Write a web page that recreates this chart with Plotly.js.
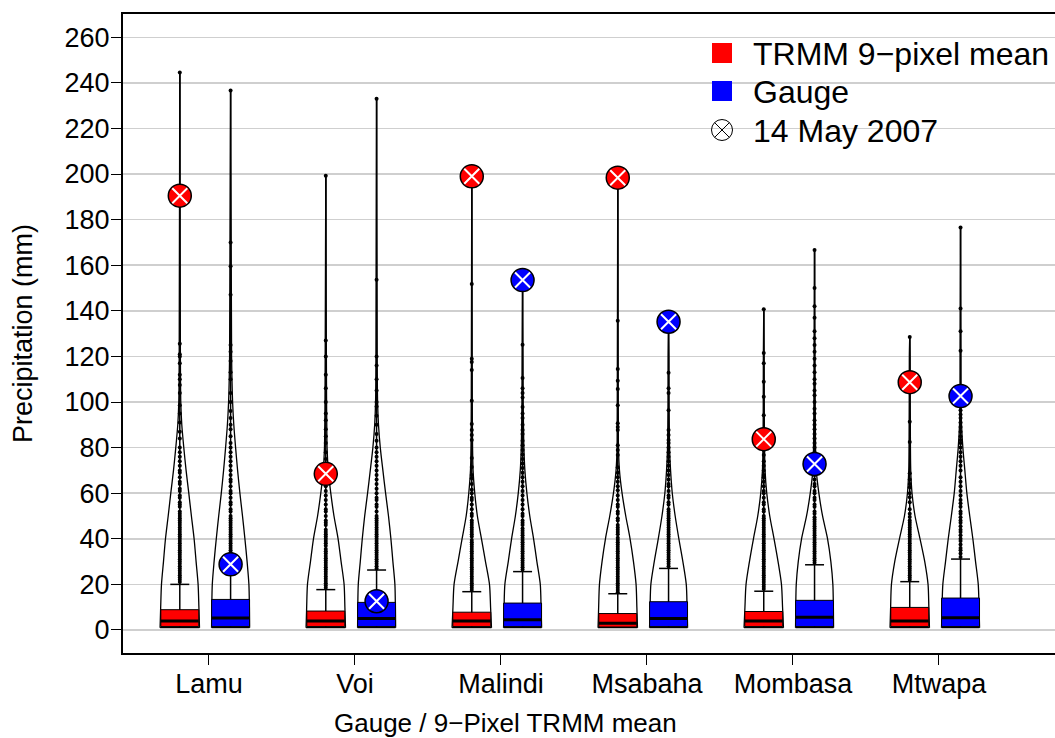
<!DOCTYPE html>
<html><head><meta charset="utf-8">
<script src="https://cdn.plot.ly/plotly-3.0.1.min.js"></script>
<style>html,body{margin:0;padding:0;background:#fff}#chart{width:1055px;height:738px}</style>
</head><body><div id="chart"></div>
<script>
// ---------- data ----------
const groups = ['Lamu', 'Voi', 'Malindi', 'Msabaha', 'Mombasa', 'Mtwapa'];
const seriesNames = ['TRMM 9\u2212pixel mean', 'Gauge'];
const highlightName = '14 May 2007';
const yTicks = [0, 20, 40, 60, 80, 100, 120, 140, 160, 180, 200, 220, 240, 260];

// TRMM 9-pixel mean
const trmmMin = [1, 1, 1, 1, 1, 1];
const trmmQ1 = [1.5, 1.5, 1.5, 1.3, 1.5, 1.5];
const trmmMedian = [3.9, 3.9, 3.9, 3.0, 3.9, 3.9];
const trmmQ3 = [8.9, 8.3, 7.8, 7.2, 8.1, 9.9];
const trmmWhisker = [20, 17.7, 16.8, 15.9, 17, 21.2];
const trmmMax = [244.5, 199.3, 199, 198.4, 140.7, 128.5];
const trmmMay14 = [190.5, 68.5, 199, 198.4, 83.7, 108.7];

// Gauge
const gaugeMin = [1, 1, 1, 1, 1, 1];
const gaugeQ1 = [1.5, 1.5, 1.5, 1.5, 1.5, 1.5];
const gaugeMedian = [5.2, 5.0, 4.5, 5.0, 5.6, 5.4];
const gaugeQ3 = [13.4, 12.1, 11.8, 12.4, 13, 14];
const gaugeWhisker = [31, 26.3, 25.6, 27, 28.6, 31.1];
const gaugeMax = [236.6, 233, 153.5, 135.2, 166.7, 176.5];
const gaugeMay14 = [28.8, 12.6, 153.5, 135.2, 72.8, 102.6];

// violin outline: relative half-widths at [min, 10,20,30,40,50,60,70,80,90,100,120, max]
const violinLevels = [10, 20, 30, 40, 50, 60, 70, 80, 90, 100, 120];
const trmmViolin = [
  [19.7, 19.1, 18.3, 16.3, 14.3, 11.6, 9.0, 6.3, 4.0, 2.0, 1.0, 0.6, 0],
  [19.7, 19.1, 18.3, 15.3, 12.3, 8.2, 5.0, 2.5, 1.3, 1.0, 0.8, 0.6, 0],
  [19.7, 18.8, 17.7, 13.7, 9.7, 5.6, 3.0, 1.3, 0.8, 0.6, 0.5, 0.4, 0],
  [19.7, 19.1, 18.3, 15.7, 12.3, 8.0, 4.3, 1.7, 0.7, 0.6, 0.5, 0.4, 0],
  [19.7, 18.8, 17.7, 14.3, 10.3, 6.0, 3.0, 1.3, 0.8, 0.6, 0.5, 0.4, 0],
  [19.7, 19.1, 18.3, 15.0, 10.3, 5.3, 2.3, 1.0, 0.7, 0.6, 0.5, 0.4, 0]
];
const gaugeViolin = [
  [19.0, 18.8, 18.3, 16.5, 14.3, 11.9, 9.3, 7.0, 5.0, 3.2, 2.0, 1.0, 0],
  [19.0, 18.8, 18.3, 16.3, 14.3, 11.9, 9.0, 6.3, 3.7, 1.9, 1.0, 0.6, 0],
  [19.0, 18.5, 17.7, 14.3, 11.0, 7.2, 4.3, 2.3, 1.3, 0.9, 0.6, 0.4, 0],
  [19.0, 18.5, 17.7, 14.3, 10.3, 6.6, 3.7, 2.0, 1.0, 0.7, 0.5, 0.4, 0],
  [19.0, 18.8, 18.3, 16.3, 13.0, 8.0, 4.3, 1.7, 1.0, 0.8, 0.6, 0.4, 0],
  [19.0, 18.5, 17.7, 15.0, 12.3, 9.2, 6.3, 4.3, 2.3, 1.0, 0.5, 0.4, 0]
];

// points beyond the upper whisker
const trmmOutliers = [
  [21,22,23,24,25,26,27,28,29,30,31,32,33,34,35,36,37,38,39,40,41,42,43,44,45,46,47,48,49,50,51,52,54,55,56,58,59,61,62,64,65,67,69,70,72,74,76,78,80,84,87,91,95,98.6,104,107.5,110,112,117,120,121,125.5,244.5],
  [18.5,19.5,20.5,21.5,22.5,23.5,24.5,25.5,26.5,27.5,28.5,29.5,30.5,31.5,32.5,33.5,34.5,35.5,37,38,39,40,41,42,43,44,46,47,48,50,52,53,55,57,59,61,63,65,67,72,75,78,82,85,88,92,95,100,106,112,120,127,199.3],
  [17.5,18.5,19.5,20.5,21.5,22.5,23.5,24.5,25.5,26.5,27.5,28.5,29.5,30.5,31.5,32.5,33.5,34.5,35.5,36.5,37.5,38.5,39.5,41,42,43,44,45,46,47,48,50,51,53,55,57,58,60,61.5,64,66.5,68,71.5,75.4,83.3,85.5,87.7,90.3,100.5,114,117.5,119,151.8,199],
  [16.5,17.5,18.5,19.5,20.5,21.5,22.5,23.5,24.5,25.5,26.5,27.5,28.5,29.5,30.5,31.5,32.5,33.5,34.5,35.5,36.5,37.5,38.5,39.5,40.5,42,43,44,45,46,48,49,51,52,54,55,57,59,61.3,63,65,67,69,71.4,76.7,79,81,87.7,89,90.7,98.6,105.7,109.3,114.5,135.6,198.4],
  [18,19,20,21,22,23,24,25,26,27,28,29,30,31,32,33,34,35,36,37,38,39,40,41,42,43,44,45,46,47,48,49,50,52,53,55,56,58,60,61,63,65,67,68,70,72,74,76.7,79,81,86,88,94.2,102.3,108.9,117,121.5,140.7],
  [22,23,24,25,26,27,28,29,30,31,32,33,34,35,36,37,38,39,40,41,42,43,44,45,46,47,48,49.6,51,53,56,58.2,60,62.6,64,66,68.8,82.5,91.3,128.5]
];
const gaugeOutliers = [
  [32,33,34,35,36,37,38,39,40,41,42,43,44,45,46,47,48,49,50,52,53,55,56,58,60,61,63,65,66,68,70,72,74,76,78,80,82,85,88,90,93,96,100,104,110,113,118,122,125,147,159.5,170,236.6],
  [27,28,29,30,31,32,33,34,35,36,37,38,39,40,41,42,43,44,45,46,47,48,49,50,52,54,55,57,58,60,62,64,66,68,70,72,74,76,78,80,83,86,90,94,98,100,105,110,116,120,153.6,233],
  [26.5,27.5,28.5,29.5,30.5,31.5,32.5,33.5,34.5,35.5,36.5,37.5,38.5,39.5,40.5,41.5,42.5,43.5,44.5,46,47,48,50,51,53,55,57,59,61,63,65,67,69,71,73,75,77,79,81,83,86,87.7,90,93,95,97.8,102,104,106,110.5,125.1,153.5],
  [28,29,30,31,32,33,34,35,36,37,38,39,40,41,42,43,44,45,46,47,48,49,50,51,52,53,55,56,58,59,61,63,64,66,68,70,72,74,76,78,80,82,83.3,85.5,87.7,96.4,104,106,112.8,135.2],
  [29.5,30.5,31.5,32.5,33.5,34.5,35.5,36.5,37.5,38.5,39.5,40.5,41.5,42.5,43.5,44.5,45.5,46.5,47.5,48.5,49.5,51,52,54,55,57,58,60,61,63,64,66,68,70,76,78,80,82,84,86,88,90,92,95,97,100,103,105,108,110,113,116,119,122,125,128,131,137,142,150,166.7],
  [32,33.5,35,36,37.5,39,40,41.5,43,44,45.5,47,48,49.5,51,52,54,55.6,57,59,61,63,65,67,70,72,74,76,78,80,82,83.3,85,87,89,91,93,94.5,96.4,122.5,131,141,176.5]
];

// ---------- styling ----------
const RED = '#FF0000', BLUE = '#0000FF';
const FONT = 'Liberation Sans, Arial, Helvetica, sans-serif';
const OFFSET = [-0.2, 0.148];
const VIOLIN_HALF = 0.135, BOX_HALF = 0.13, CAP_HALF = 0.065, WIDTH_REF = 19.7;
const W = 1055, H = 738, ML = 123, MT = 14, MB = 85;
const PW = W - ML, PH = H - MT - MB;
const px2x = p => (p - ML) / PW;
const py2y = p => (H - MB - p) / PH;

const series = [
  {color: RED, min: trmmMin, q1: trmmQ1, med: trmmMedian, q3: trmmQ3, wh: trmmWhisker, max: trmmMax, may: trmmMay14, vio: trmmViolin, out: trmmOutliers},
  {color: BLUE, min: gaugeMin, q1: gaugeQ1, med: gaugeMedian, q3: gaugeQ3, wh: gaugeWhisker, max: gaugeMax, may: gaugeMay14, vio: gaugeViolin, out: gaugeOutliers}
];

const violinT = [], lineT = [], dotT = [], boxT = [], medT = [], capT = [], hiT = [], hiX = [];
series.forEach((s, si) => {
  groups.forEach((g, i) => {
    const c = i + OFFSET[si];
    const lv = [s.min[i]].concat(violinLevels, [s.max[i]]);
    const w = s.vio[i].map(v => v / WIDTH_REF * VIOLIN_HALF);
    const xl = lv.map((v, k) => c - w[k]);
    const xr = lv.map((v, k) => c + w[k]);
    violinT.push({type: 'scatter', mode: 'lines', x: xl.concat([null], xr, [null], [c - w[0], c + w[0]]),
      y: lv.concat([null], lv, [null], [s.min[i], s.min[i]]),
      line: {color: '#000', width: 1.3, shape: 'spline', smoothing: 0.8}, hoverinfo: 'skip', showlegend: false});
    lineT.push({type: 'scatter', mode: 'lines', x: [c, c], y: [s.min[i], s.max[i]],
      line: {color: '#000', width: 1.5}, hoverinfo: 'skip', showlegend: false});
    dotT.push({type: 'scatter', mode: 'markers', x: s.out[i].map(() => c), y: s.out[i],
      marker: {color: '#000', size: 4}, hoverinfo: 'y', showlegend: false});
    boxT.push({type: 'scatter', mode: 'lines', fill: 'toself', fillcolor: s.color,
      x: [c - BOX_HALF, c + BOX_HALF, c + BOX_HALF, c - BOX_HALF, c - BOX_HALF],
      y: [s.q1[i], s.q1[i], s.q3[i], s.q3[i], s.q1[i]],
      line: {color: '#000', width: 1}, hoverinfo: 'skip', showlegend: false});
    medT.push({type: 'scatter', mode: 'lines', x: [c - BOX_HALF, c + BOX_HALF], y: [s.med[i], s.med[i]],
      line: {color: '#000', width: 3}, hoverinfo: 'skip', showlegend: false});
    capT.push({type: 'scatter', mode: 'lines', x: [c - CAP_HALF, c + CAP_HALF], y: [s.wh[i], s.wh[i]],
      line: {color: '#000', width: 1.5}, hoverinfo: 'skip', showlegend: false});
  });
  const cx = groups.map((g, i) => i + OFFSET[si]);
  hiT.push({type: 'scatter', mode: 'markers', x: cx, y: s.may,
    marker: {symbol: 'circle', size: 23, color: s.color, line: {color: '#000', width: 1.5}},
    hoverinfo: 'y', showlegend: false});
  hiX.push({type: 'scatter', mode: 'markers', x: cx, y: s.may,
    marker: {symbol: 'x-thin-open', size: 15, color: '#fff', line: {color: '#fff', width: 2}},
    hoverinfo: 'skip', showlegend: false});
});

const data = [].concat(violinT, lineT, dotT, boxT, medT, capT, hiT, hiX);

// ---------- legend drawn in paper space ----------
const legendRows = [53, 91, 130];
const legendSym = 722, legendText = 751, sq = 10, cr = 10.5;
const shapes = [
  {type: 'rect', xref: 'paper', yref: 'paper', x0: px2x(legendSym - sq), x1: px2x(legendSym + sq),
   y0: py2y(legendRows[0] + sq), y1: py2y(legendRows[0] - sq), fillcolor: RED, line: {width: 0}},
  {type: 'rect', xref: 'paper', yref: 'paper', x0: px2x(legendSym - sq), x1: px2x(legendSym + sq),
   y0: py2y(legendRows[1] + sq), y1: py2y(legendRows[1] - sq), fillcolor: BLUE, line: {width: 0}},
  {type: 'circle', xref: 'paper', yref: 'paper', x0: px2x(legendSym - cr), x1: px2x(legendSym + cr),
   y0: py2y(legendRows[2] + cr), y1: py2y(legendRows[2] - cr), line: {color: '#000', width: 1}},
  {type: 'line', xref: 'paper', yref: 'paper', x0: px2x(legendSym - cr * 0.707), x1: px2x(legendSym + cr * 0.707),
   y0: py2y(legendRows[2] - cr * 0.707), y1: py2y(legendRows[2] + cr * 0.707), line: {color: '#000', width: 1}},
  {type: 'line', xref: 'paper', yref: 'paper', x0: px2x(legendSym - cr * 0.707), x1: px2x(legendSym + cr * 0.707),
   y0: py2y(legendRows[2] + cr * 0.707), y1: py2y(legendRows[2] - cr * 0.707), line: {color: '#000', width: 1}}
];
const legendLabels = [seriesNames[0], seriesNames[1], highlightName];
const annotations = legendLabels.map((t, k) => ({
  text: t, xref: 'paper', yref: 'paper', x: px2x(legendText), y: py2y(legendRows[k] + 1),
  xanchor: 'left', yanchor: 'middle', showarrow: false, font: {size: 32, family: FONT, color: '#000'}
}));
annotations.push({
  text: 'Gauge / 9\u2212Pixel TRMM mean', xref: 'paper', yref: 'paper', x: px2x(505), y: py2y(723),
  xanchor: 'center', yanchor: 'middle', showarrow: false, font: {size: 26, family: FONT, color: '#000'}
});

const layout = {
  width: W, height: H,
  margin: {l: ML, r: 0, t: MT, b: MB},
  paper_bgcolor: '#fff', plot_bgcolor: '#fff',
  font: {family: FONT, size: 27, color: '#000'},
  showlegend: false,
  shapes: shapes,
  annotations: annotations,
  xaxis: {
    range: [-0.589, 5.795], tickvals: groups.map((g, i) => i), ticktext: groups,
    showgrid: false, zeroline: false, showline: true, linecolor: '#000', linewidth: 2, mirror: true,
    ticks: 'outside', ticklen: 10, tickwidth: 1, tickcolor: '#000',
    tickfont: {size: 27}, ticklabelstandoff: -4
  },
  yaxis: {
    range: [-10.1, 270.2], tickvals: yTicks,
    showgrid: true, gridcolor: '#cfcfcf', gridwidth: 1.5, zeroline: false,
    showline: true, linecolor: '#000', linewidth: 2, mirror: false,
    ticks: 'outside', ticklen: 10, tickwidth: 1, tickcolor: '#000',
    tickfont: {size: 27}, ticklabelstandoff: -4,
    title: {text: 'Precipitation (mm)', font: {size: 27}, standoff: 24}
  }
};

Plotly.newPlot('chart', data, layout, {displayModeBar: false, staticPlot: true});
</script>
</body></html>
